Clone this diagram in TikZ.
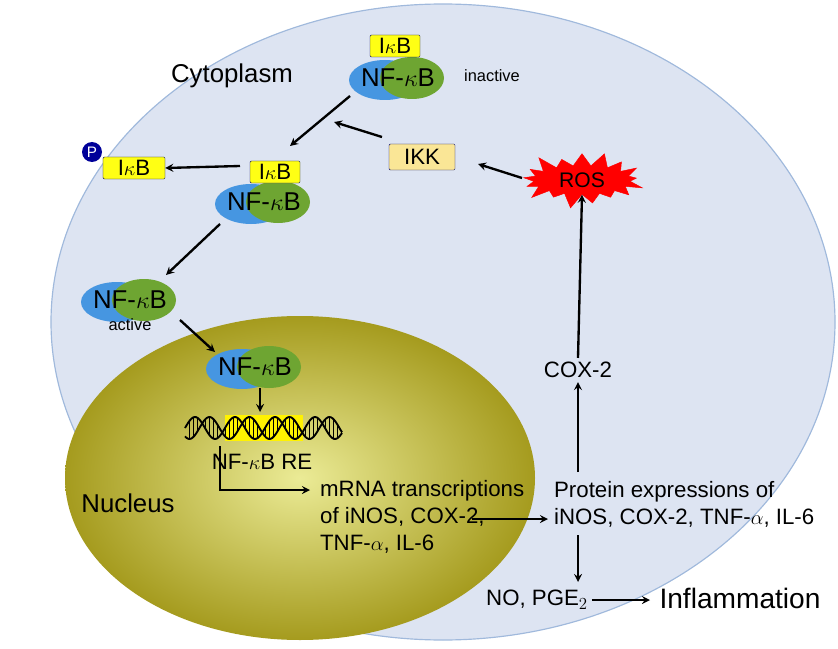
\documentclass[tikz,border=0pt]{standalone}
\usepackage{fontspec}
\setmainfont{Liberation Sans}
\usetikzlibrary{shapes.symbols}
\definecolor{cytofill}{RGB}{221,228,242}
\definecolor{cytoline}{RGB}{160,185,220}
\definecolor{nfblue}{RGB}{70,150,225}
\definecolor{nfgreen}{RGB}{110,165,50}
\definecolor{ikbyellow}{RGB}{255,255,20}
\definecolor{ikkfill}{RGB}{250,230,150}
\definecolor{nucedge}{RGB}{165,155,30}
\definecolor{nucmid}{RGB}{235,235,150}
\newcommand{\nfkb}{NF-$\kappa$B}
\newcommand{\ikb}{I$\kappa$B}
\begin{document}
\begin{tikzpicture}[
  x=0.03cm, y=-0.03cm,
  box/.style={rectangle, draw=blue!40!black, rounded corners=1pt, fill=ikbyellow, minimum height=0.66cm, inner sep=1pt, font=\fontsize{19}{19}\selectfont},
  lbl/.style={font=\fontsize{22}{22}\selectfont},
  txt/.style={font=\fontsize{19}{23}\selectfont, align=left},
  arr/.style={->, >=stealth, line width=2pt}
]
\useasboundingbox (0,0) rectangle (838,649);
% cell and nucleus
\fill[cytofill, draw=cytoline, line width=1pt] (443,322) ellipse [x radius=392, y radius=318];
\shade[inner color=nucmid, outer color=nucedge] (300,478) ellipse [x radius=235, y radius=162];
\node[lbl] (cyto) at (232,76) {Cytoplasm};
\node[lbl] (nucleus) at (128,503) {Nucleus};
% NF-kB complexes
\foreach \n/\x/\y in {one/398/78, two/264/202, three/130/300, four/255/367}{
  \fill[nfblue] (\x-13,\y+2) ellipse [x radius=36, y radius=20];
  \fill[nfgreen] (\x+14,\y) ellipse [x radius=32, y radius=21];
  \node[lbl] (nf\n) at (\x,\y) {\nfkb};
}
\node[box, minimum width=1.5cm] (ikbone) at (395,46) {\ikb};
\node[box, minimum width=1.5cm] (ikbtwo) at (275,172) {\ikb};
\node[box, minimum width=1.86cm] (ikbp) at (134,168) {\ikb};
\node[circle, fill=blue!60!black, text=white, inner sep=1pt, minimum size=0.6cm, font=\fontsize{13}{13}\selectfont] (phos) at (92,152) {P};
\node[font=\fontsize{14}{14}\selectfont] (inactive) at (492,76) {inactive};
\node[font=\fontsize{14}{14}\selectfont] (active) at (130,325) {active};
% IKK and ROS
\node[box, fill=ikkfill, minimum width=1.98cm, minimum height=0.78cm] (ikk) at (422,157) {IKK};
\node[starburst, fill=red, draw=red, minimum width=3.9cm, minimum height=1.86cm, inner sep=0pt, font=\fontsize{18}{18}\selectfont] (ros) at (582,180) {ROS};
% DNA
\fill[yellow] (225,415) rectangle (303,441);
\draw[line width=1.6pt, domain=185:342, samples=100] plot (\x,{428-11*sin((\x-185)*9)});
\draw[line width=1.6pt, domain=185:342, samples=100] plot (\x,{428+11*sin((\x-185)*9+50)});
\foreach \x in {189,193,...,341} \draw[line width=0.5pt] (\x,{428-11*sin((\x-185)*9)}) -- (\x,{428+11*sin((\x-185)*9+50)});
\node[font=\fontsize{19}{19}\selectfont] (re) at (262,462) {\nfkb{} RE};
% texts
\node[txt, anchor=west] (mrna) at (316,517) {mRNA transcriptions\\of iNOS, COX-2,\\TNF-$\alpha$, IL-6};
\node[txt, anchor=west] (protein) at (550,504) {Protein expressions of\\iNOS, COX-2, TNF-$\alpha$, IL-6};
\node[txt] (cox) at (578,370) {COX-2};
\node[txt] (no) at (537,600) {NO, PGE$_2$};
\node[font=\fontsize{24}{24}\selectfont] (inflam) at (740,598) {Inflammation};
\coordinate (start) at (220,446);
% arrows
\draw[arr] (nfone) ++(-48,18) -- (290,146);
\draw[arr] (ikk) ++(-40,-20) -- (334,122);
\draw[arr] (ros) ++(-60,-2) -- (478,164);
\draw[arr] (ikbtwo) ++(-35,-6) -- (ikbp.east);
\draw[arr] (nftwo) ++(-44,22) -- (166,275);
\draw[arr] (nfthree) ++(50,20) -- (215,352);
\draw[arr] (260,388) -- (260,412);
\draw[arr] (start) -- (220,490) -- (310,490);
\draw[arr] (472,519) -- (548,519);
\draw[arr] (578,472) -- (cox.south);
\draw[arr] (cox.north) -- (ros.south);
\draw[arr] (578,535) -- (578,582);
\draw[arr] (no.east) -- (650,600);
\end{tikzpicture}
\end{document}
